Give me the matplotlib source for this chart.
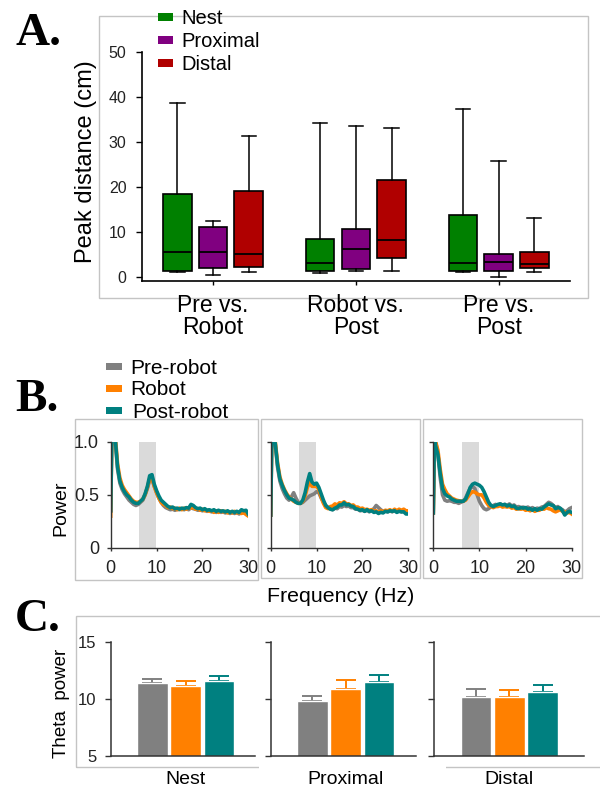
import matplotlib
matplotlib.use('Agg')
import matplotlib.pyplot as plt
from matplotlib.patches import Rectangle

plt.rcParams['font.family'] = ['Liberation Sans', 'DejaVu Sans']

W, H = 600, 792
fig = plt.figure(figsize=(6, 7.92), dpi=100)

def axrect(l, t, r, b):
    return [l / W, 1 - b / H, (r - l) / W, (b - t) / H]

def frame(l, t, r, b, color='#c4c4c4'):
    fig.add_artist(Rectangle((l / W, 1 - b / H), (r - l) / W, (b - t) / H,
                             transform=fig.transFigure, fill=False,
                             ec=color, lw=1.0, zorder=-2))

def ftext(x, y, s, **kw):
    fig.text(x / W, 1 - y / H, s, **kw)

def swatch(l, t, r, b, color):
    fig.add_artist(Rectangle((l / W, 1 - b / H), (r - l) / W, (b - t) / H,
                             transform=fig.transFigure, fc=color, ec='none'))

# ---------------- Panel A data ----------------
groups = ['Pre vs.\nRobot', 'Robot vs.\nPost', 'Pre vs.\nPost']
box_series = ['Nest', 'Proximal', 'Distal']
box_colors = ['#008000', '#800080', '#b00000']

nest_whislo = [1.1, 0.8, 1.1]
nest_q1 = [1.4, 1.4, 1.4]
nest_med = [5.6, 3.0, 3.0]
nest_q3 = [18.4, 8.4, 13.8]
nest_whishi = [38.7, 34.1, 37.3]

prox_whislo = [0.5, 1.4, 0.0]
prox_q1 = [1.9, 1.7, 1.4]
prox_med = [5.6, 6.2, 3.4]
prox_q3 = [11.0, 10.7, 5.0]
prox_whishi = [12.5, 33.5, 25.8]

dist_whislo = [1.1, 1.4, 1.1]
dist_q1 = [2.3, 4.3, 1.9]
dist_med = [5.0, 8.2, 2.8]
dist_q3 = [19.0, 21.6, 5.6]
dist_whishi = [31.3, 33.0, 13.0]

# ---------------- Panel B data ----------------
freq = [0.0, 0.25, 0.5, 1.0, 1.5, 2.0, 2.5, 3.0, 3.5, 4.0,
        4.5, 5.0, 5.5, 6.0, 6.5, 7.0, 7.5, 8.0, 8.5, 9.0,
        9.5, 10.0, 10.5, 11.0, 11.5, 12.0, 12.5, 13.0, 13.5, 14.0,
        14.5, 15.0, 15.5, 16.0, 16.5, 17.0, 17.5, 18.0, 18.5, 19.0,
        19.5, 20.0, 20.5, 21.0, 21.5, 22.0, 22.5, 23.0, 23.5, 24.0,
        24.5, 25.0, 25.5, 26.0, 26.5, 27.0, 27.5, 28.0, 28.5, 29.0,
        29.5, 30.0]
theta_band = [6.2, 9.9]
spec_labels = ['Pre-robot', 'Robot', 'Post-robot']
spec_colors = ['#808080', '#ff8000', '#008080']

# panel 1 (Pre vs Robot)
p1_pre = [0.35, 1.08, 1.08, 1.00, 0.74, 0.61, 0.55, 0.51, 0.48, 0.45,
          0.43, 0.41, 0.40, 0.41, 0.43, 0.45, 0.50, 0.56, 0.64, 0.65,
          0.58, 0.52, 0.47, 0.43, 0.40, 0.38, 0.37, 0.36, 0.365, 0.355,
          0.365, 0.36, 0.37, 0.36, 0.37, 0.36, 0.38, 0.37, 0.365, 0.355,
          0.36, 0.35, 0.36, 0.345, 0.35, 0.34, 0.35, 0.335, 0.345, 0.335,
          0.34, 0.33, 0.34, 0.325, 0.335, 0.325, 0.335, 0.32, 0.34, 0.33,
          0.325, 0.31]
p1_robot = [0.30, 1.08, 1.08, 1.05, 0.79, 0.66, 0.59, 0.55, 0.52, 0.49,
            0.46, 0.44, 0.43, 0.43, 0.44, 0.46, 0.50, 0.57, 0.65, 0.66,
            0.58, 0.52, 0.47, 0.43, 0.41, 0.40, 0.38, 0.385, 0.37, 0.375,
            0.36, 0.375, 0.36, 0.375, 0.365, 0.38, 0.375, 0.385, 0.365, 0.37,
            0.355, 0.365, 0.35, 0.355, 0.345, 0.35, 0.335, 0.35, 0.335, 0.35,
            0.34, 0.345, 0.33, 0.34, 0.33, 0.345, 0.33, 0.335, 0.325, 0.335,
            0.315, 0.30]
p1_post = [0.35, 1.08, 1.08, 1.02, 0.76, 0.63, 0.57, 0.53, 0.50, 0.48,
           0.45, 0.43, 0.42, 0.42, 0.44, 0.46, 0.51, 0.58, 0.68, 0.69,
           0.60, 0.54, 0.49, 0.45, 0.43, 0.41, 0.39, 0.38, 0.385, 0.37,
           0.375, 0.365, 0.375, 0.37, 0.38, 0.375, 0.41, 0.40, 0.38, 0.37,
           0.375, 0.36, 0.37, 0.355, 0.36, 0.35, 0.36, 0.345, 0.355, 0.345,
           0.35, 0.34, 0.35, 0.335, 0.345, 0.335, 0.345, 0.335, 0.36, 0.35,
           0.355, 0.32]

# panel 2 (Robot vs Post)
p2_pre = [0.31, 1.08, 1.08, 0.97, 0.76, 0.63, 0.56, 0.51, 0.47, 0.45,
          0.48, 0.52, 0.47, 0.43, 0.42, 0.43, 0.45, 0.47, 0.49, 0.50,
          0.51, 0.53, 0.52, 0.47, 0.43, 0.40, 0.38, 0.37, 0.36, 0.375,
          0.37, 0.39, 0.385, 0.40, 0.39, 0.395, 0.38, 0.38, 0.365, 0.365,
          0.35, 0.355, 0.345, 0.355, 0.34, 0.355, 0.37, 0.40, 0.38, 0.36,
          0.345, 0.35, 0.34, 0.35, 0.34, 0.36, 0.345, 0.35, 0.34, 0.35,
          0.335, 0.34]
p2_robot = [0.31, 1.08, 1.08, 1.00, 0.80, 0.67, 0.60, 0.55, 0.51, 0.48,
            0.46, 0.44, 0.43, 0.42, 0.42, 0.44, 0.49, 0.57, 0.62, 0.58,
            0.58, 0.58, 0.55, 0.48, 0.42, 0.38, 0.37, 0.39, 0.395, 0.415,
            0.405, 0.425, 0.42, 0.435, 0.415, 0.415, 0.40, 0.405, 0.385, 0.385,
            0.37, 0.375, 0.36, 0.365, 0.355, 0.36, 0.345, 0.35, 0.335, 0.35,
            0.34, 0.355, 0.35, 0.36, 0.345, 0.365, 0.35, 0.365, 0.355, 0.365,
            0.35, 0.35]
p2_post = [0.31, 1.08, 1.08, 0.98, 0.78, 0.65, 0.59, 0.54, 0.50, 0.47,
           0.46, 0.45, 0.43, 0.42, 0.42, 0.45, 0.52, 0.62, 0.70, 0.62,
           0.60, 0.61, 0.57, 0.51, 0.45, 0.40, 0.38, 0.365, 0.36, 0.375,
           0.385, 0.405, 0.405, 0.425, 0.405, 0.41, 0.395, 0.39, 0.37, 0.365,
           0.355, 0.36, 0.345, 0.36, 0.345, 0.35, 0.335, 0.34, 0.325, 0.335,
           0.33, 0.345, 0.34, 0.35, 0.345, 0.35, 0.335, 0.345, 0.34, 0.34,
           0.32, 0.32]

# panel 3 (Pre vs Post)
p3_pre = [0.33, 1.05, 1.00, 0.88, 0.66, 0.50, 0.45, 0.44, 0.445, 0.44,
          0.43, 0.43, 0.42, 0.43, 0.44, 0.47, 0.52, 0.56, 0.58, 0.56,
          0.50, 0.44, 0.40, 0.37, 0.36, 0.37, 0.39, 0.40, 0.41, 0.395,
          0.415, 0.40, 0.41, 0.40, 0.415, 0.395, 0.405, 0.385, 0.39, 0.38,
          0.385, 0.375, 0.385, 0.37, 0.38, 0.365, 0.375, 0.37, 0.385, 0.39,
          0.41, 0.43, 0.42, 0.40, 0.38, 0.39, 0.37, 0.36, 0.34, 0.35,
          0.37, 0.38]
p3_robot = [0.33, 1.05, 1.00, 0.92, 0.74, 0.60, 0.55, 0.51, 0.49, 0.47,
            0.46, 0.45, 0.445, 0.44, 0.44, 0.45, 0.48, 0.51, 0.53, 0.525,
            0.51, 0.50, 0.50, 0.47, 0.43, 0.40, 0.39, 0.38, 0.39, 0.39,
            0.40, 0.385, 0.39, 0.385, 0.39, 0.375, 0.38, 0.365, 0.37, 0.365,
            0.37, 0.355, 0.36, 0.35, 0.36, 0.345, 0.355, 0.355, 0.37, 0.365,
            0.38, 0.37, 0.365, 0.35, 0.34, 0.35, 0.36, 0.345, 0.34, 0.33,
            0.335, 0.32]
p3_post = [0.33, 1.05, 0.96, 0.88, 0.70, 0.56, 0.51, 0.49, 0.48, 0.46,
           0.45, 0.44, 0.44, 0.44, 0.44, 0.46, 0.51, 0.57, 0.60, 0.61,
           0.60, 0.59, 0.57, 0.53, 0.48, 0.43, 0.40, 0.39, 0.40, 0.41,
           0.415, 0.405, 0.41, 0.395, 0.405, 0.39, 0.395, 0.375, 0.37, 0.38,
           0.375, 0.38, 0.365, 0.37, 0.355, 0.37, 0.355, 0.37, 0.365, 0.385,
           0.40, 0.415, 0.405, 0.40, 0.37, 0.38, 0.375, 0.35, 0.31, 0.335,
           0.345, 0.335]

# ---------------- Panel C data ----------------
locations = ['Nest', 'Proximal', 'Distal']
theta_pre = [11.35, 9.77, 10.18]
theta_robot = [11.11, 10.85, 10.12]
theta_post = [11.58, 11.49, 10.61]
theta_pre_err = [0.42, 0.50, 0.67]
theta_robot_err = [0.44, 0.79, 0.64]
theta_post_err = [0.41, 0.59, 0.56]

DARK = '#222222'

# =============== Panel A ===============
frame(98.5, 16, 587.5, 298)
ftext(15, 45, 'A.', family='Liberation Serif', weight='bold', fontsize=34,
      va='baseline', ha='left')

axA = fig.add_axes(axrect(141.7, 51.7, 570, 281))
axA.patch.set_alpha(0)
series_stats = [
    (nest_whislo, nest_q1, nest_med, nest_q3, nest_whishi),
    (prox_whislo, prox_q1, prox_med, prox_q3, prox_whishi),
    (dist_whislo, dist_q1, dist_med, dist_q3, dist_whishi),
]
offsets = [-0.25, 0.0, 0.25]
for (lo, q1, med, q3, hi), off, col in zip(series_stats, offsets, box_colors):
    stats = [dict(whislo=lo[i], q1=q1[i], med=med[i], q3=q3[i], whishi=hi[i],
                  fliers=[]) for i in range(len(groups))]
    pos = [i + off for i in range(len(groups))]
    axA.bxp(stats, positions=pos, widths=0.2, patch_artist=True,
            showfliers=False, capwidths=0.1, manage_ticks=False,
            boxprops=dict(facecolor=col, edgecolor='black', linewidth=1.2),
            medianprops=dict(color='black', linewidth=1.3),
            whiskerprops=dict(color='black', linewidth=1.1),
            capprops=dict(color='black', linewidth=1.1))
axA.set_xlim(-0.5, 2.5)
axA.set_ylim(-0.9, 50)
axA.set_yticks([0, 10, 20, 30, 40, 50])
axA.set_xticks(range(len(groups)))
axA.set_xticklabels(groups, fontsize=16.5, linespacing=0.95)
for s in ['top', 'right']:
    axA.spines[s].set_visible(False)
for s in ['left', 'bottom']:
    axA.spines[s].set_linewidth(1.2)
axA.tick_params(axis='y', direction='out', length=4, width=1, pad=7,
                labelsize=11.5, labelcolor=DARK)
axA.tick_params(axis='x', direction='out', length=3, width=1, pad=6,
                labelcolor='black')
ftext(86.2, 161.5, 'Peak distance (cm)', rotation=90, ha='center',
      va='center', fontsize=17)

# legend A
leg_rows_A = [17, 40, 62.5]
for lab, col, yc in zip(box_series, box_colors, leg_rows_A):
    swatch(157.5, yc - 4, 172.5, yc + 4, col)
    ftext(181.5, yc + 1.5, lab, fontsize=14.5, ha='left', va='center')

# =============== Panel B ===============
frame(74.7, 419, 257.5, 580)
frame(260.5, 419, 419.5, 578)
frame(422.6, 419, 582.4, 578)
ftext(15, 410.7, 'B.', family='Liberation Serif', weight='bold', fontsize=34,
      va='baseline', ha='left')

leg_rows_B = [366.7, 388.3, 410.8]
leg_text_x = [130.7, 130.7, 132.7]
for lab, col, yc, tx in zip(spec_labels, spec_colors, leg_rows_B, leg_text_x):
    swatch(106, yc - 3.6, 121.7, yc + 3.6, col)
    ftext(tx, yc + 1.5, lab, fontsize=15, ha='left', va='center')

spec_panels = [(p1_pre, p1_robot, p1_post),
               (p2_pre, p2_robot, p2_post),
               (p3_pre, p3_robot, p3_post)]
b_lefts = [(110.7, 248.3), (270.7, 408.3), (433.3, 571.7)]
for k, ((l, r), series) in enumerate(zip(b_lefts, spec_panels)):
    ax = fig.add_axes(axrect(l, 441.7, r, 548))
    ax.patch.set_alpha(0)
    ax.axvspan(theta_band[0], theta_band[1], color='#dadada', lw=0, zorder=0)
    for ys, col in zip(series, spec_colors):
        ax.plot(freq, ys, color=col, lw=2.6, zorder=2)
    ax.set_xlim(0, 30)
    ax.set_ylim(0, 1.0)
    ax.set_xticks([0, 10, 20, 30])
    ax.set_yticks([0, 0.5, 1.0])
    if k == 0:
        ax.set_yticklabels(['0', '0.5', '1.0'])
    else:
        ax.set_yticklabels([])
    for s in ['top', 'right']:
        ax.spines[s].set_visible(False)
    for s in ['left', 'bottom']:
        ax.spines[s].set_color('#333333')
        ax.spines[s].set_linewidth(1.0)
    ax.tick_params(axis='y', direction='out', length=3, width=1, pad=5.5,
                   labelsize=13, color='#333333', labelcolor=DARK)
    ax.tick_params(axis='x', direction='out', length=2.5, width=1, pad=6,
                   labelsize=13, color='#333333', labelcolor=DARK)

ftext(61.3, 508, 'Power', rotation=90, ha='center', va='center', fontsize=14)
ftext(341, 597, 'Frequency (Hz)', ha='center', va='center', fontsize=15.4)

# =============== Panel C ===============
frame(75.9, 616, 605, 767)
fig.add_artist(Rectangle((259.4 / W, 1 - 769 / H), (446.4 - 259.4) / W,
                         (769 - 622) / H, transform=fig.transFigure,
                         fc='white', ec='none', zorder=-1))
ftext(15, 631, 'C.', family='Liberation Serif', weight='bold', fontsize=34,
      va='baseline', ha='left')

c_axes = [(111.1, 254.8, (-1.24, 3.07)),
          (271.3, 415.7, (-1.23, 3.10)),
          (434.1, 584.3, (-1.26, 3.25))]
for i, (l, r, xl) in enumerate(c_axes):
    ax = fig.add_axes(axrect(l, 641.7, r, 755.7))
    ax.patch.set_alpha(0)
    vals = [theta_pre[i], theta_robot[i], theta_post[i]]
    errs = [theta_pre_err[i], theta_robot_err[i], theta_post_err[i]]
    xs = [0, 1, 2]
    ax.bar(xs, vals, width=0.92, color=spec_colors, edgecolor='white',
           linewidth=1.0, zorder=2)
    for x, v, e, col in zip(xs, vals, errs, spec_colors):
        ax.errorbar([x], [v], yerr=[[0], [e]], fmt='none', ecolor=col,
                    elinewidth=1.4, capsize=7, capthick=1.4, zorder=1)
    ax.set_xlim(*xl)
    ax.set_ylim(5, 15)
    ax.set_yticks([5, 10, 15])
    if i == 0:
        ax.set_yticklabels(['5', '10', '15'])
    else:
        ax.set_yticklabels([])
    ax.set_xticks([1])
    ax.set_xticklabels([locations[i]], fontsize=14)
    for s in ['top', 'right']:
        ax.spines[s].set_visible(False)
    for s in ['left', 'bottom']:
        ax.spines[s].set_color('#333333')
        ax.spines[s].set_linewidth(1.1)
    ax.tick_params(axis='y', direction='out', length=4, width=1, pad=6.5,
                   labelsize=12, color='#333333', labelcolor=DARK)
    ax.tick_params(axis='x', length=0, pad=11)

ftext(61.3, 703, 'Theta  power', rotation=90, ha='center', va='center',
      fontsize=13.5)

fig.savefig('out.png', dpi=100)
